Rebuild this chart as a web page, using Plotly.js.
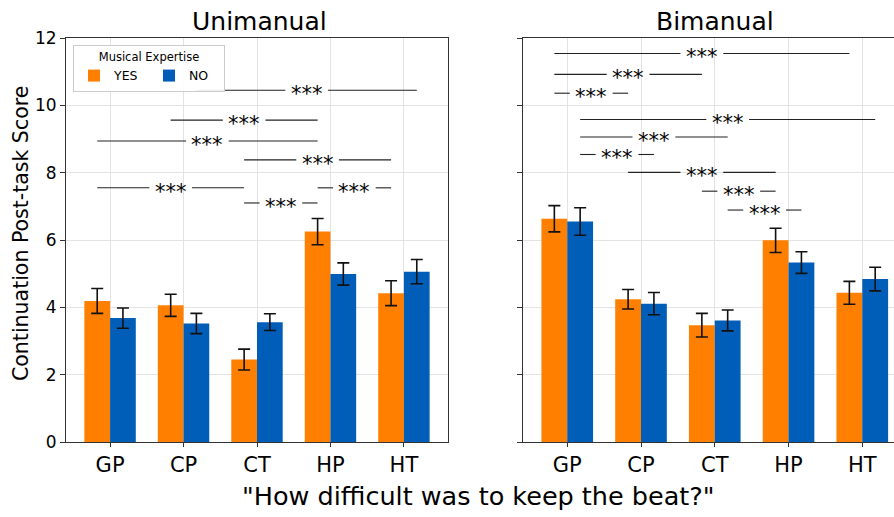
<!DOCTYPE html>
<html>
<head>
<meta charset="utf-8">
<script src="https://cdn.plot.ly/plotly-3.0.1.min.js"></script>
<style>html,body{margin:0;padding:0;background:#fff;}#chart{width:894px;height:517px;}</style>
</head>
<body>
<div id="chart"></div>
<script>
// ---- data ----
const categories = ['GP', 'CP', 'CT', 'HP', 'HT'];
const groupNames = ['YES', 'NO'];
const uniYes = [4.19, 4.06, 2.45, 6.25, 4.42];
const uniYesErr = [0.37, 0.33, 0.31, 0.39, 0.37];
const uniNo = [3.68, 3.52, 3.56, 4.99, 5.06];
const uniNoErr = [0.30, 0.30, 0.25, 0.33, 0.36];
const biYes = [6.63, 4.24, 3.47, 5.99, 4.43];
const biYesErr = [0.39, 0.29, 0.35, 0.36, 0.34];
const biNo = [6.55, 4.11, 3.61, 5.33, 4.84];
const biNoErr = [0.41, 0.33, 0.31, 0.32, 0.35];
const yTicks = [0, 2, 4, 6, 8, 10, 12];
// significance comparisons: [fromCat, fromGroup, toCat, toGroup, height, label]
const uniSig = [
  ['CP', 'NO', 'HT', 'NO', 10.45, '***'],
  ['CP', 'YES', 'HP', 'YES', 9.56, '***'],
  ['GP', 'YES', 'HP', 'YES', 8.94, '***'],
  ['CT', 'YES', 'HT', 'YES', 8.38, '***'],
  ['GP', 'YES', 'CT', 'YES', 7.55, '***'],
  ['HP', 'YES', 'HT', 'YES', 7.55, '***'],
  ['CT', 'YES', 'HP', 'YES', 7.10, '***']
];
const biSig = [
  ['GP', 'YES', 'HT', 'YES', 11.54, '***'],
  ['GP', 'YES', 'CT', 'YES', 10.92, '***'],
  ['GP', 'YES', 'CP', 'YES', 10.36, '***'],
  ['GP', 'NO', 'HT', 'NO', 9.58, '***'],
  ['GP', 'NO', 'CT', 'NO', 9.06, '***'],
  ['GP', 'NO', 'CP', 'NO', 8.54, '***'],
  ['CP', 'YES', 'HP', 'YES', 8.01, '***'],
  ['CT', 'YES', 'HP', 'YES', 7.45, '***'],
  ['CT', 'NO', 'HP', 'NO', 6.89, '***']
];

// ---- style ----
const FONT = 'DejaVu Sans, sans-serif';
const cYes = '#ff7f00';
const cNo = '#005eb8';
const W = 894, H = 517;
const bargap = 0.3;
const half = (1 - bargap) / 4; // offset of each bar centre from category centre
const labelGap = 0.29;          // half-gap left in a bracket line around its label (axis units)
const px = v => v / W, py = v => 1 - v / H;

function pos(cat, grp) {
  return categories.indexOf(cat) + (grp === 'YES' ? -half : half);
}

function barTrace(y, err, grp, color, xa, ya, show) {
  return {
    type: 'bar', x: categories, y: y, name: grp, xaxis: xa, yaxis: ya,
    marker: {color: color, line: {width: 0}},
    error_y: {type: 'data', array: err, visible: true, color: '#111', thickness: 1.6, width: 6},
    showlegend: show, legendgroup: grp
  };
}

const data = [
  barTrace(uniYes, uniYesErr, 'YES', cYes, 'x', 'y', true),
  barTrace(uniNo, uniNoErr, 'NO', cNo, 'x', 'y', true),
  barTrace(biYes, biYesErr, 'YES', cYes, 'x2', 'y2', false),
  barTrace(biNo, biNoErr, 'NO', cNo, 'x2', 'y2', false)
];

const shapes = [], annotations = [];
function addSig(list, xr, yr) {
  list.forEach(s => {
    const x0 = pos(s[0], s[1]), x1 = pos(s[2], s[3]);
    const mid = (x0 + x1) / 2;
    const segs = [[x0, mid - labelGap], [mid + labelGap, x1]];
    segs.forEach(g => {
      if (g[1] > g[0]) shapes.push({type: 'line', xref: xr, yref: yr, x0: g[0], x1: g[1], y0: s[4], y1: s[4],
        line: {color: '#222', width: 1.1}, layer: 'above'});
    });
    annotations.push({xref: xr, yref: yr, x: mid, y: s[4], text: s[5],
      showarrow: false, yshift: -4,
      font: {family: FONT, size: 21, color: '#000'}, xanchor: 'center', yanchor: 'middle'});
  });
}
addSig(uniSig, 'x', 'y');
addSig(biSig, 'x2', 'y2');

annotations.push({xref: 'paper', yref: 'paper', x: px(259), y: py(21), text: 'Unimanual', showarrow: false,
  font: {family: FONT, size: 25, color: '#000'}, xanchor: 'center', yanchor: 'middle'});
annotations.push({xref: 'paper', yref: 'paper', x: px(715), y: py(21), text: 'Bimanual', showarrow: false,
  font: {family: FONT, size: 25, color: '#000'}, xanchor: 'center', yanchor: 'middle'});
annotations.push({xref: 'paper', yref: 'paper', x: px(478), y: py(496), text: '"How difficult was to keep the beat?"',
  showarrow: false, font: {family: FONT, size: 25.5, color: '#000'}, xanchor: 'center', yanchor: 'middle'});
annotations.push({xref: 'paper', yref: 'paper', x: px(21), y: py(234), text: 'Continuation Post-task Score',
  textangle: -90, showarrow: false, font: {family: FONT, size: 20.5, color: '#000'}, xanchor: 'center', yanchor: 'middle'});

const xCommon = {
  type: 'category', showgrid: true, gridcolor: '#e3e3e3', gridwidth: 1,
  showline: true, linecolor: '#333', linewidth: 1, mirror: true,
  ticks: 'outside', ticklen: 4, tickcolor: '#333',
  tickfont: {family: FONT, size: 21, color: '#000'}, zeroline: false, automargin: false
};
const yCommon = {
  range: [0, 12], tickvals: yTicks, showgrid: true, gridcolor: '#e3e3e3', gridwidth: 1,
  showline: true, linecolor: '#333', linewidth: 1,
  ticks: 'outside', ticklen: 5, tickcolor: '#333',
  tickfont: {family: FONT, size: 17, color: '#000'}, zeroline: false, automargin: false
};

const layout = {
  width: W, height: H,
  margin: {l: 0, r: 0, t: 0, b: 0},
  paper_bgcolor: '#fff', plot_bgcolor: '#fff',
  barmode: 'group', bargap: bargap, bargroupgap: 0,
  font: {family: FONT},
  xaxis: Object.assign({}, xCommon, {domain: [px(66), px(448)], range: [-0.6, 4.6], anchor: 'y'}),
  yaxis: Object.assign({}, yCommon, {domain: [py(442), py(38)], anchor: 'x', mirror: true}),
  xaxis2: Object.assign({}, xCommon, {domain: [px(523), 1], range: [-0.6, 4.43], anchor: 'y2'}),
  yaxis2: Object.assign({}, yCommon, {domain: [py(442), py(38)], anchor: 'x2', mirror: false, showticklabels: false}),
  showlegend: true,
  legend: {
    x: px(73), y: py(45), xanchor: 'left', yanchor: 'top', orientation: 'h',
    bgcolor: 'rgba(255,255,255,0.9)', bordercolor: '#cccccc', borderwidth: 1,
    title: {text: 'Musical Expertise', side: 'top center', font: {family: FONT, size: 11.5, color: '#000'}},
    font: {family: FONT, size: 12.5, color: '#000'}, entrywidth: 30, traceorder: 'normal',
    tracegroupgap: 0, itemwidth: 30
  },
  shapes: shapes,
  annotations: annotations
};

Plotly.newPlot('chart', data, layout, {staticPlot: true, displayModeBar: false});
</script>
</body>
</html>
